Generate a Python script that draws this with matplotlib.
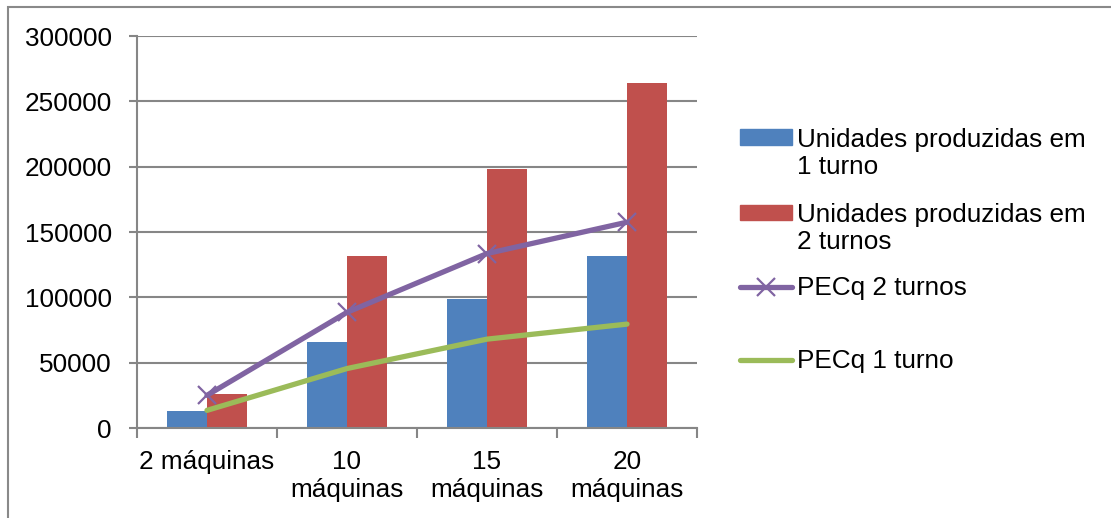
import matplotlib
matplotlib.use("Agg")
import matplotlib.pyplot as plt
import numpy as np
from matplotlib.patches import Rectangle
from matplotlib.lines import Line2D

categories = ["2 máquinas", "10\nmáquinas", "15\nmáquinas", "20\nmáquinas"]
unid_1turno = [13200, 66000, 99000, 132000]
unid_2turnos = [26400, 132000, 198000, 264000]
pecq_2turnos = [25000, 88500, 133500, 157500]
pecq_1turno = [13500, 45500, 68000, 79500]
series_labels = ["Unidades produzidas em\n1 turno", "Unidades produzidas em\n2 turnos",
                 "PECq 2 turnos", "PECq 1 turno"]
yticks = [0, 50000, 100000, 150000, 200000, 250000, 300000]

BLUE = "#4F81BD"
RED = "#C0504D"
PURPLE = "#8064A2"
GREEN = "#9BBB59"
GRAY = "#868686"

plt.rcParams['font.family'] = ['Liberation Sans', 'DejaVu Sans']
FS = 18.8

W, H = 1111, 518
fig = plt.figure(figsize=(W / 100, H / 100), dpi=100)
ax = fig.add_axes([137 / W, 1 - 428 / H, (697 - 137) / W, (428 - 36) / H])

x = np.arange(len(categories))
bw = 0.285
ax.bar(x - bw / 2, unid_1turno, width=bw, color=BLUE, zorder=2)
ax.bar(x + bw / 2, unid_2turnos, width=bw, color=RED, zorder=2)
ax.plot(x, pecq_2turnos, color=PURPLE, lw=3.8, marker='x', markersize=13,
        markeredgewidth=1.6, zorder=3, solid_capstyle='round')
ax.plot(x, pecq_1turno, color=GREEN, lw=3.8, zorder=4, solid_capstyle='round')

ax.set_xlim(-0.5, len(categories) - 0.5)
ax.set_ylim(0, 300000)
ax.set_yticks(yticks)
ax.set_yticklabels([str(v) for v in yticks], fontsize=FS)
ax.yaxis.grid(True, color=GRAY, lw=1.5, zorder=0)
ax.set_axisbelow(True)

ax.set_xticks(x)
ax.set_xticklabels(categories, fontsize=FS, linespacing=1.2, va='top')
ax.tick_params(axis='x', length=0, pad=16)
ax.set_xticks(np.arange(len(categories) + 1) - 0.5, minor=True)
ax.tick_params(axis='x', which='minor', length=7, width=1.5, color=GRAY, direction='out')
ax.tick_params(axis='y', length=6, width=1.5, color=GRAY, direction='out', pad=12)

for s in ['top', 'right']:
    ax.spines[s].set_visible(False)
for s in ['left', 'bottom']:
    ax.spines[s].set_color(GRAY)
    ax.spines[s].set_linewidth(1.5)

# outer chart frame
fig.patches.append(Rectangle((8 / W, -0.1), 1.2, 1 - 7 / H + 0.1, transform=fig.transFigure,
                             fill=False, edgecolor="#898989", lw=1.5))

# legend (manual, Excel-like spacing)
def fy(py):
    return 1 - py / H

hx0, hx1, tx = 740 / W, 792 / W, 797 / W
ph = 15 / H
entries = [
    ('patch', BLUE, 137, 153.5),
    ('patch', RED, 212, 228.5),
    ('linex', PURPLE, 287, 288),
    ('line', GREEN, 360, 361),
]
for (kind, col, hy, ty), lab in zip(entries, series_labels):
    if kind == 'patch':
        fig.patches.append(Rectangle((hx0, fy(hy) - ph / 2), hx1 - hx0, ph,
                                     transform=fig.transFigure, color=col))
    else:
        fig.lines.append(Line2D([hx0, hx1], [fy(hy), fy(hy)], transform=fig.transFigure,
                                color=col, lw=3.8, solid_capstyle='round'))
        if kind == 'linex':
            fig.lines.append(Line2D([(hx0 + hx1) / 2], [fy(hy)], transform=fig.transFigure,
                                    color=col, marker='x', markersize=13, markeredgewidth=1.6))
    fig.text(tx, fy(ty), lab, fontsize=FS, va='center', ha='left', linespacing=1.2)

fig.savefig("out.png", dpi=100)
